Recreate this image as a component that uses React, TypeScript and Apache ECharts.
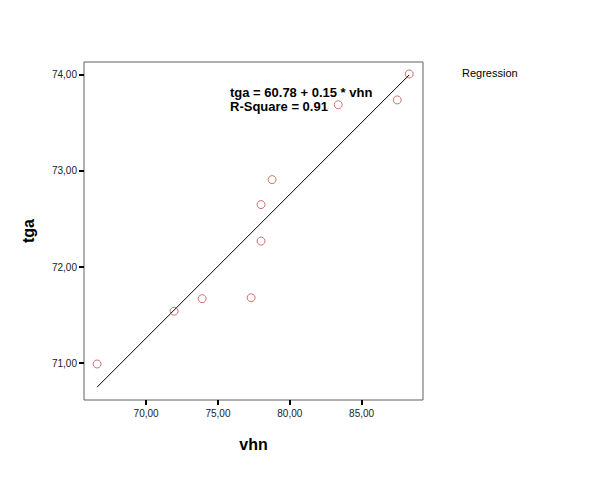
import React, { useEffect, useRef } from "react";
import * as echarts from "echarts";

const vhn = [66.59, 71.95, 73.9, 77.31, 78.0, 78.0, 78.77, 83.37, 87.48, 88.31];
const tga = [70.99, 71.54, 71.67, 71.68, 72.27, 72.65, 72.91, 73.69, 73.74, 74.01];
const xTicks = [70, 75, 80, 85];
const yTicks = [71, 72, 73, 74];
const intercept = 60.78;
const slope = 0.1497;
const equationLines = ["tga = 60.78 + 0.15 * vhn", "R-Square = 0.91"];
const legendLabel = "Regression";

const fmt = (v: number) => v.toFixed(2).replace(".", ",");

export default function App() {
  const ref = useRef<HTMLDivElement>(null);
  useEffect(() => {
    if (!ref.current) return;
    const chart = echarts.init(ref.current, undefined, { renderer: "svg" });
    const xMin = Math.min(...vhn);
    const xMax = Math.max(...vhn);
    const fitLine = [
      [xMin, intercept + slope * xMin],
      [xMax, intercept + slope * xMax],
    ];
    chart.setOption({
      animation: false,
      backgroundColor: "#ffffff",
      grid: {
        left: 84,
        top: 62,
        right: 180,
        bottom: 81,
        show: true,
        borderColor: "#606060",
        borderWidth: 1,
      },
      xAxis: {
        type: "value",
        min: 65.68,
        max: 89.27,
        name: "vhn",
        nameLocation: "middle",
        nameGap: 36,
        nameTextStyle: { fontFamily: "Liberation Sans", fontWeight: "bold", fontSize: 16, color: "#000" },
        splitLine: { show: false },
        axisLine: { show: false },
        axisTick: { show: true, length: 5, lineStyle: { color: "#000", width: 2 }, customValues: xTicks },
        axisLabel: { customValues: xTicks, formatter: fmt, fontFamily: "Liberation Sans", fontSize: 10, color: "#222", margin: 8 },
      },
      yAxis: {
        type: "value",
        min: 70.615,
        max: 74.135,
        name: "tga",
        nameLocation: "middle",
        nameGap: 48,
        nameRotate: 90,
        nameTextStyle: { fontFamily: "Liberation Sans", fontWeight: "bold", fontSize: 16, color: "#000" },
        splitLine: { show: false },
        axisLine: { show: false },
        axisTick: { show: true, length: 5, lineStyle: { color: "#000", width: 2 }, customValues: yTicks },
        axisLabel: { customValues: yTicks, formatter: fmt, fontFamily: "Liberation Sans", fontSize: 10, color: "#222", margin: 7 },
      },
      series: [
        {
          type: "line",
          data: fitLine,
          symbol: "none",
          lineStyle: { color: "#000", width: 1 },
          z: 1,
        },
        {
          type: "scatter",
          data: vhn.map((v, i) => [v, tga[i]]),
          symbol: "circle",
          symbolSize: 8,
          itemStyle: { color: "transparent", borderColor: "#c0504d", borderWidth: 1 },
          z: 2,
        },
      ],
      graphic: [
        {
          type: "text",
          left: 230,
          top: 85,
          style: {
            text: equationLines.join("\n"),
            font: "bold 13px 'Liberation Sans'",
            lineHeight: 14,
            fill: "#000",
          },
        },
        {
          type: "text",
          left: 462,
          top: 67,
          style: { text: legendLabel, font: "11px 'Liberation Sans'", fill: "#000" },
        },
      ],
    });
    return () => chart.dispose();
  }, []);
  return <div ref={ref} style={{ width: 603, height: 481, position: "absolute", left: 0, top: 0 }} />;
}
